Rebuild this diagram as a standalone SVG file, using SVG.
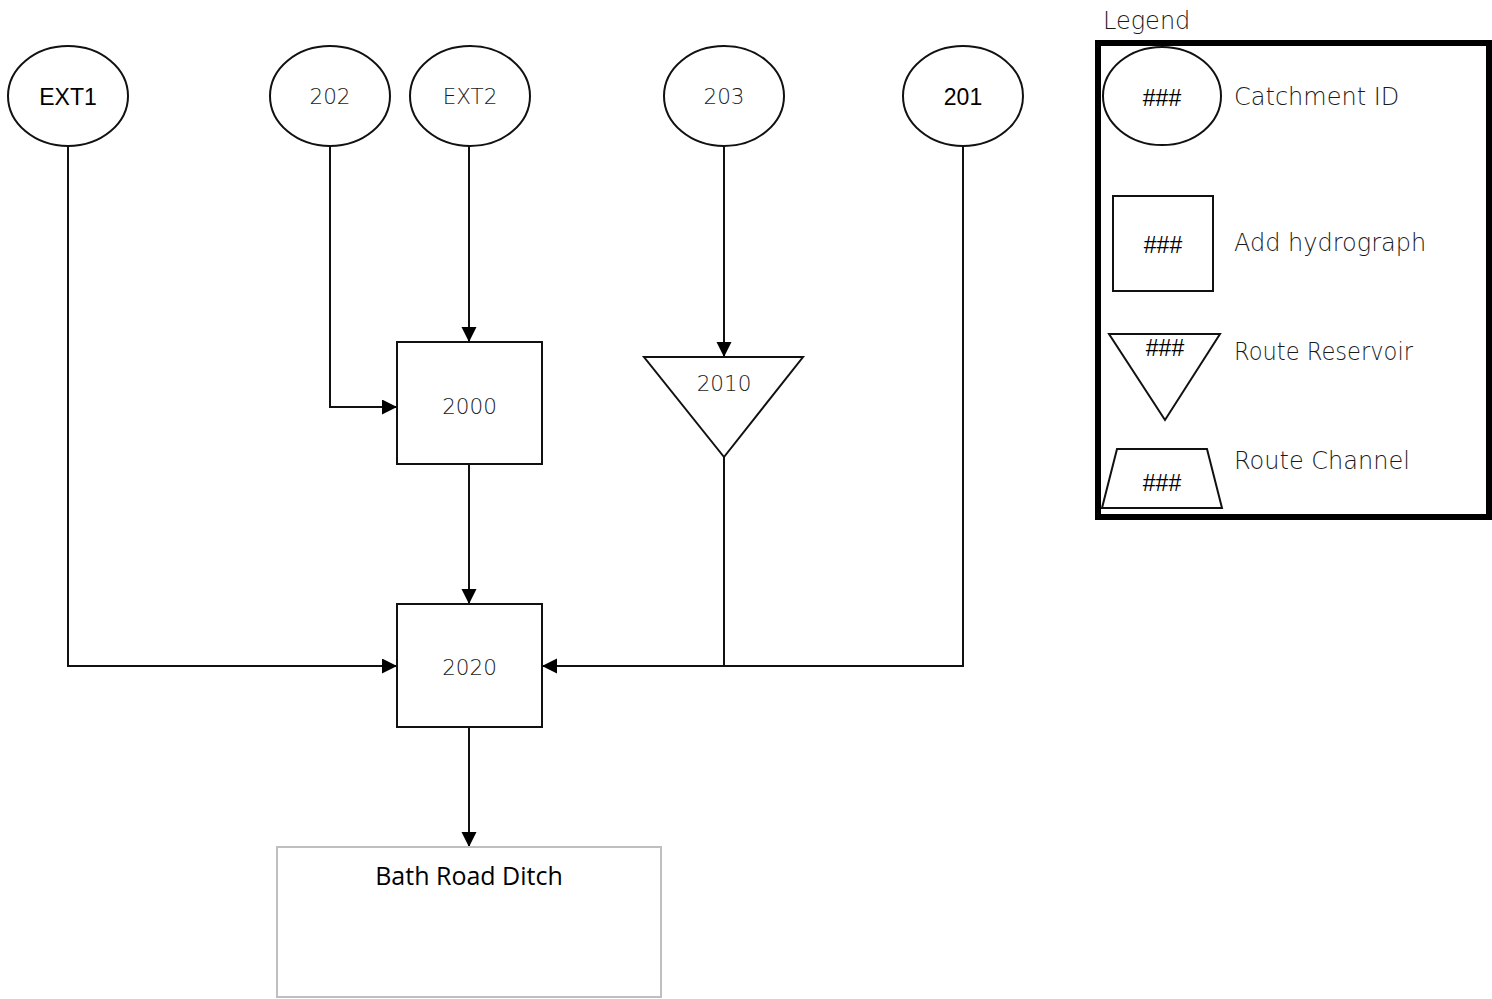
<svg xmlns="http://www.w3.org/2000/svg" width="1492" height="999" viewBox="0 0 1492 999">
<style>
.shape{fill:#fff;stroke:#111;stroke-width:2}
.conn{fill:none;stroke:#111;stroke-width:2}
.lbl{font-family:"DejaVu Sans",sans-serif;font-weight:200;font-size:21.5px;fill:#1a1a1a;text-anchor:middle}
.arial{font-family:"Liberation Sans",Arial,sans-serif;font-size:23px;fill:#000;text-anchor:middle}
.hash{font-family:"Liberation Sans",Arial,sans-serif;font-size:23px;fill:#000;text-anchor:middle}
.leg{font-family:"DejaVu Sans",sans-serif;font-weight:200;font-size:24px;fill:#1a1a1a}
</style>
<defs>
<marker id="arr" markerUnits="userSpaceOnUse" markerWidth="16" markerHeight="16" refX="15" refY="7.5" orient="auto">
<path d="M0,0 L15,7.5 L0,15 z" fill="#000"/>
</marker>
</defs>
<rect width="1492" height="999" fill="#fff"/>
<g id="connectors">
<path class="conn" d="M68,146 V666 H397" marker-end="url(#arr)"/>
<path class="conn" d="M330,146 V407 H397" marker-end="url(#arr)"/>
<path class="conn" d="M469,146 V342" marker-end="url(#arr)"/>
<path class="conn" d="M469,464 V604" marker-end="url(#arr)"/>
<path class="conn" d="M724,146 V357" marker-end="url(#arr)"/>
<path class="conn" d="M724,457 V666"/>
<path class="conn" d="M963,146 V666 H542" marker-end="url(#arr)"/>
<path class="conn" d="M469,727 V847" marker-end="url(#arr)"/>
</g>
<g id="node-EXT1"><ellipse class="shape" cx="68" cy="96" rx="60" ry="50"/><text class="arial" x="68" y="105">EXT1</text></g>
<g id="node-202"><ellipse class="shape" cx="330" cy="96" rx="60" ry="50"/><text class="lbl" x="330" y="104">202</text></g>
<g id="node-EXT2"><ellipse class="shape" cx="470" cy="96" rx="60" ry="50"/><text class="lbl" x="470" y="104">EXT2</text></g>
<g id="node-203"><ellipse class="shape" cx="724" cy="96" rx="60" ry="50"/><text class="lbl" x="724" y="104">203</text></g>
<g id="node-201"><ellipse class="shape" cx="963" cy="96" rx="60" ry="50"/><text class="arial" x="963" y="105">201</text></g>
<g id="node-2000"><rect class="shape" x="397" y="342" width="145" height="122"/><text class="lbl" x="469.5" y="414">2000</text></g>
<g id="node-2010"><polygon class="shape" points="644,357 803,357 724,457"/><text class="lbl" x="724" y="391">2010</text></g>
<g id="node-2020"><rect class="shape" x="397" y="604" width="145" height="123"/><text class="lbl" x="469.5" y="675">2020</text></g>
<g id="node-bath"><rect x="277" y="847" width="384" height="150" fill="#fff" stroke="#bfbfbf" stroke-width="2"/><text x="469" y="885" font-family="'Open Sans',sans-serif" font-size="25" fill="#000" text-anchor="middle">Bath Road Ditch</text></g>
<g id="legend">
<text class="leg" x="1103" y="29">Legend</text>
<rect x="1098" y="43" width="391" height="474" fill="none" stroke="#000" stroke-width="6"/>
<ellipse class="shape" cx="1162" cy="96" rx="59" ry="49"/>
<text class="hash" x="1162" y="106">###</text>
<text class="leg" x="1234" y="105">Catchment ID</text>
<rect class="shape" x="1113" y="196" width="100" height="95"/>
<text class="hash" x="1163" y="253">###</text>
<text class="leg" x="1234" y="251">Add hydrograph</text>
<polygon class="shape" points="1109,334 1220,334 1165,420"/>
<text class="hash" x="1165" y="356">###</text>
<text class="leg" x="1234" y="360" textLength="179" lengthAdjust="spacingAndGlyphs">Route Reservoir</text>
<polygon class="shape" points="1117,449 1207,449 1222,508 1102,508"/>
<text class="hash" x="1162" y="491">###</text>
<text class="leg" x="1234" y="469">Route Channel</text>
</g>
</svg>
